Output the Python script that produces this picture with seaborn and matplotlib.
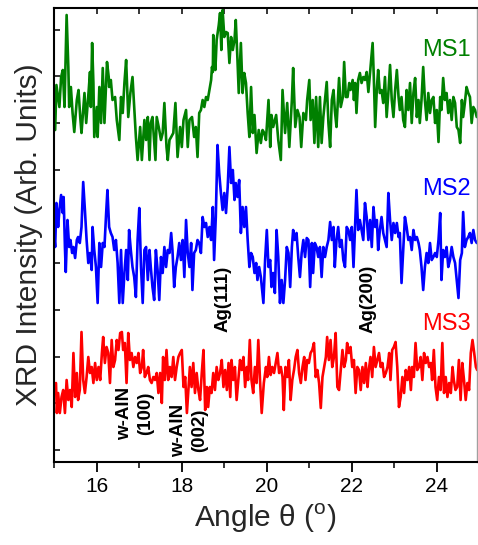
import numpy as np
import pandas as pd
import matplotlib
matplotlib.use("Agg")
import matplotlib.pyplot as plt
import seaborn as sns
from matplotlib.ticker import MultipleLocator

# ---------------- data ----------------
ms1_angle = [15.02, 15.05, 15.12, 15.16, 15.20, 15.24, 15.26, 15.29, 15.33, 15.35, 15.39, 15.43, 15.47, 15.53, 15.57,
             15.61, 15.64, 15.71, 15.75, 15.81, 15.84, 15.86, 15.89, 15.92, 15.94, 16.00, 16.02, 16.06, 16.10, 16.14,
             16.18, 16.22, 16.24, 16.28, 16.29, 16.33, 16.37, 16.43, 16.47, 16.53, 16.57, 16.61, 16.65, 16.69, 16.74,
             16.79, 16.84, 16.88, 16.92, 16.96, 17.02, 17.06, 17.12, 17.16, 17.20, 17.24, 17.27, 17.31, 17.38, 17.41,
             17.47, 17.51, 17.55, 17.59, 17.64, 17.67, 17.71, 17.75, 17.80, 17.85, 17.90, 17.96, 18.00, 18.04, 18.10,
             18.14, 18.18, 18.24, 18.29, 18.33, 18.37, 18.41, 18.45, 18.49, 18.53, 18.57, 18.61, 18.65, 18.69, 18.71,
             18.73, 18.74, 18.76, 18.79, 18.82, 18.87, 18.90, 18.93, 18.96, 19.00, 19.04, 19.08, 19.12, 19.16, 19.20,
             19.24, 19.27, 19.31, 19.34, 19.39, 19.43, 19.47, 19.51, 19.55, 19.59, 19.63, 19.67, 19.71, 19.76, 19.81,
             19.86, 19.90, 19.94, 19.98, 20.04, 20.08, 20.11, 20.15, 20.22, 20.27, 20.33, 20.37, 20.43, 20.48, 20.53,
             20.59, 20.62, 20.67, 20.72, 20.77, 20.81, 20.86, 20.92, 20.95, 21.00, 21.03, 21.08, 21.12, 21.16, 21.21,
             21.25, 21.29, 21.33, 21.37, 21.41, 21.45, 21.49, 21.53, 21.57, 21.60, 21.64, 21.70, 21.74, 21.79, 21.82,
             21.86, 21.90, 21.94, 21.97, 22.02, 22.05, 22.08, 22.11, 22.15, 22.19, 22.23, 22.27, 22.31, 22.35, 22.39,
             22.43, 22.49, 22.52, 22.55, 22.59, 22.62, 22.66, 22.70, 22.74, 22.78, 22.82, 22.86, 22.90, 22.94, 22.98,
             23.02, 23.06, 23.10, 23.13, 23.17, 23.21, 23.25, 23.29, 23.33, 23.37, 23.41, 23.45, 23.49, 23.53, 23.57,
             23.60, 23.64, 23.68, 23.72, 23.76, 23.80, 23.84, 23.88, 23.92, 23.96, 24.00, 24.04, 24.08, 24.11, 24.15,
             24.19, 24.23, 24.27, 24.31, 24.35, 24.39, 24.43, 24.47, 24.51, 24.55, 24.59, 24.62, 24.66, 24.70, 24.74,
             24.78, 24.82, 24.86, 24.90, 24.94]
ms1_int = [35, 80, 58, 88, 95, 58, 93, 150, 98, 58, 78, 52, 33, 65, 75,
           48, 32, 72, 42, 75, 93, 58, 122, 82, 28, 58, 28, 78, 42, 97,
           42, 82, 103, 88, 78, 85, 65, 68, 45, 25, 68, 52, 82, 105, 48,
           72, 88, 58, 28, 5, 38, 5, 45, 25, 48, 5, 42, 48, 5, 48,
           35, 25, 32, 62, 18, 5, 25, 28, 32, 62, 8, 38, 18, 45, 55,
           18, 45, 48, 28, 38, 8, 52, 55, 65, 58, 68, 65, 75, 85, 98,
           93, 130, 112, 95, 125, 140, 152, 115, 155, 128, 133, 132, 102, 128, 115,
           125, 145, 105, 72, 122, 72, 92, 82, 52, 28, 78, 32, 50, 12, 35,
           22, 35, 32, 25, 65, 18, 50, 38, 50, 25, 5, 75, 32, 62, 18,
           65, 97, 38, 55, 48, 18, 52, 45, 65, 85, 45, 65, 22, 68, 18,
           68, 22, 48, 65, 83, 42, 18, 65, 75, 55, 38, 87, 58, 68, 103,
           68, 68, 82, 75, 85, 65, 82, 52, 85, 92, 82, 88, 85, 93, 73,
           93, 122, 85, 38, 77, 95, 72, 75, 62, 88, 48, 72, 100, 65, 48,
           75, 95, 68, 55, 68, 45, 38, 75, 55, 82, 42, 72, 87, 48, 65,
           42, 65, 98, 65, 45, 72, 52, 65, 68, 42, 55, 23, 68, 55, 87,
           65, 72, 52, 65, 45, 68, 62, 38, 35, 22, 65, 48, 62, 78, 72,
           68, 42, 58, 55, 48]

ms2_angle = [15.00, 15.02, 15.05, 15.09, 15.12, 15.16, 15.20, 15.22, 15.25, 15.27, 15.31, 15.35, 15.38, 15.42, 15.45,
             15.49, 15.53, 15.56, 15.60, 15.64, 15.68, 15.72, 15.76, 15.80, 15.84, 15.88, 15.90, 15.94, 15.98, 16.02,
             16.06, 16.10, 16.14, 16.18, 16.22, 16.25, 16.29, 16.33, 16.37, 16.41, 16.45, 16.49, 16.53, 16.57, 16.61,
             16.65, 16.69, 16.73, 16.76, 16.80, 16.84, 16.88, 16.92, 16.96, 17.00, 17.04, 17.08, 17.12, 17.16, 17.20,
             17.24, 17.27, 17.31, 17.35, 17.39, 17.43, 17.47, 17.51, 17.55, 17.59, 17.63, 17.67, 17.71, 17.75, 17.78,
             17.82, 17.86, 17.90, 17.94, 17.98, 18.02, 18.06, 18.10, 18.14, 18.18, 18.22, 18.25, 18.29, 18.33, 18.37,
             18.41, 18.45, 18.49, 18.53, 18.57, 18.61, 18.65, 18.69, 18.73, 18.76, 18.80, 18.84, 18.88, 18.92, 18.96,
             19.00, 19.04, 19.08, 19.12, 19.16, 19.20, 19.24, 19.27, 19.31, 19.35, 19.39, 19.43, 19.47, 19.51, 19.55,
             19.59, 19.63, 19.67, 19.71, 19.75, 19.78, 19.82, 19.86, 19.92, 19.96, 20.00, 20.04, 20.08, 20.11, 20.15,
             20.19, 20.23, 20.27, 20.31, 20.35, 20.39, 20.43, 20.47, 20.51, 20.55, 20.59, 20.62, 20.66, 20.70, 20.74,
             20.78, 20.82, 20.86, 20.90, 20.94, 20.98, 21.02, 21.06, 21.09, 21.13, 21.17, 21.21, 21.25, 21.29, 21.33,
             21.37, 21.41, 21.45, 21.49, 21.53, 21.57, 21.60, 21.64, 21.68, 21.72, 21.76, 21.80, 21.84, 21.88, 21.92,
             21.96, 22.00, 22.04, 22.08, 22.11, 22.15, 22.19, 22.23, 22.27, 22.31, 22.35, 22.39, 22.43, 22.47, 22.51,
             22.55, 22.59, 22.62, 22.66, 22.70, 22.74, 22.78, 22.82, 22.86, 22.90, 22.94, 22.98, 23.02, 23.06, 23.10,
             23.13, 23.17, 23.21, 23.25, 23.29, 23.33, 23.37, 23.41, 23.45, 23.49, 23.53, 23.57, 23.60, 23.64, 23.68,
             23.72, 23.76, 23.80, 23.84, 23.88, 23.92, 23.96, 24.00, 24.04, 24.08, 24.11, 24.15, 24.19, 24.23, 24.27,
             24.31, 24.35, 24.39, 24.43, 24.47, 24.51, 24.55, 24.59, 24.62, 24.66, 24.70, 24.74, 24.78, 24.82, 24.86,
             24.90, 24.94]
ms2_int = [73, 63, 107, 83, 100, 115, 97, 113, 63, 38, 90, 63, 70, 57, 63,
           52, 70, 73, 67, 83, 128, 100, 70, 47, 57, 40, 83, 60, 43, 7,
           67, 43, 67, 63, 97, 120, 83, 77, 73, 60, 70, 47, 7, 60, 7,
           37, 60, 30, 80, 60, 43, 33, 13, 70, 102, 43, 7, 60, 63, 30,
           60, 43, 23, 10, 60, 40, 10, 53, 37, 63, 43, 60, 57, 77, 60,
           23, 43, 53, 67, 50, 70, 33, 90, 57, 43, 67, 20, 57, 60, 70,
           67, 57, 93, 83, 87, 73, 83, 70, 103, 50, 93, 165, 137, 117, 100,
           117, 97, 123, 163, 127, 140, 110, 127, 113, 130, 77, 103, 83, 103, 70,
           43, 57, 53, 37, 47, 30, 43, 33, 7, 50, 80, 43, 50, 23, 37,
           17, 80, 53, 7, 30, 7, 30, 63, 57, 23, 63, 80, 70, 77, 53,
           33, 57, 70, 53, 72, 70, 23, 67, 37, 67, 63, 53, 63, 33, 63,
           53, 63, 70, 88, 70, 83, 43, 70, 83, 63, 70, 50, 43, 83, 80,
           70, 83, 43, 87, 120, 80, 90, 80, 70, 107, 93, 70, 90, 63, 103,
           83, 90, 60, 80, 93, 77, 70, 63, 117, 90, 70, 87, 77, 87, 73,
           77, 27, 60, 93, 83, 70, 73, 60, 80, 70, 73, 67, 60, 43, 20,
           43, 57, 47, 67, 50, 53, 57, 53, 70, 97, 30, 60, 53, 63, 43,
           50, 63, 53, 47, 30, 12, 50, 57, 98, 63, 70, 73, 77, 67, 80,
           70, 67]

ms3_angle = [15.04, 15.06, 15.09, 15.13, 15.17, 15.21, 15.25, 15.29, 15.33, 15.37, 15.41, 15.45, 15.49, 15.53, 15.56,
             15.60, 15.64, 15.68, 15.72, 15.76, 15.80, 15.84, 15.88, 15.92, 15.96, 16.00, 16.04, 16.08, 16.12, 16.15,
             16.19, 16.23, 16.27, 16.31, 16.35, 16.39, 16.43, 16.47, 16.51, 16.55, 16.59, 16.62, 16.66, 16.70, 16.74,
             16.78, 16.82, 16.86, 16.90, 16.94, 16.98, 17.02, 17.06, 17.09, 17.13, 17.17, 17.21, 17.25, 17.29, 17.33,
             17.37, 17.41, 17.45, 17.49, 17.53, 17.56, 17.60, 17.64, 17.68, 17.72, 17.76, 17.80, 17.84, 17.88, 17.92,
             17.96, 18.00, 18.04, 18.08, 18.12, 18.15, 18.19, 18.23, 18.27, 18.31, 18.35, 18.39, 18.43, 18.47, 18.51,
             18.55, 18.59, 18.62, 18.66, 18.70, 18.74, 18.78, 18.82, 18.86, 18.90, 18.94, 18.98, 19.02, 19.06, 19.10,
             19.14, 19.17, 19.21, 19.25, 19.29, 19.33, 19.37, 19.41, 19.45, 19.49, 19.53, 19.56, 19.60, 19.64, 19.68,
             19.72, 19.76, 19.80, 19.84, 19.88, 19.93, 19.98, 20.01, 20.05, 20.09, 20.13, 20.17, 20.21, 20.25, 20.29,
             20.33, 20.37, 20.40, 20.44, 20.48, 20.52, 20.56, 20.60, 20.64, 20.68, 20.72, 20.76, 20.80, 20.84, 20.88,
             20.91, 20.95, 20.99, 21.03, 21.07, 21.11, 21.15, 21.19, 21.23, 21.27, 21.31, 21.35, 21.39, 21.42, 21.46,
             21.50, 21.54, 21.58, 21.62, 21.66, 21.70, 21.74, 21.78, 21.82, 21.86, 21.89, 21.93, 21.97, 22.01, 22.05,
             22.09, 22.13, 22.17, 22.21, 22.25, 22.29, 22.33, 22.37, 22.40, 22.44, 22.48, 22.52, 22.56, 22.60, 22.64,
             22.68, 22.72, 22.76, 22.80, 22.84, 22.88, 22.91, 22.95, 22.99, 23.03, 23.07, 23.11, 23.15, 23.19, 23.23,
             23.27, 23.31, 23.35, 23.39, 23.42, 23.46, 23.50, 23.54, 23.58, 23.62, 23.66, 23.70, 23.74, 23.78, 23.82,
             23.86, 23.89, 23.93, 23.97, 24.01, 24.05, 24.09, 24.13, 24.17, 24.21, 24.25, 24.29, 24.33, 24.37, 24.40,
             24.44, 24.48, 24.52, 24.56, 24.60, 24.64, 24.68, 24.72, 24.76, 24.80, 24.84, 24.88, 24.92, 24.95]
ms3_int = [37, 7, 27, 7, 23, 30, 7, 40, 20, 30, 13, 67, 23, 47, 20,
           30, 88, 40, 27, 43, 63, 47, 53, 37, 57, 40, 53, 40, 67, 83,
           57, 73, 67, 37, 80, 53, 60, 80, 70, 87, 88, 70, 77, 37, 87,
           60, 67, 53, 63, 57, 67, 47, 53, 70, 43, 47, 53, 40, 37, 43,
           40, 47, 27, 47, 17, 63, 40, 70, 40, 53, 43, 63, 40, 53, 63,
           67, 70, 33, 43, 7, 27, 53, 33, 57, 27, 47, 30, 20, 47, 70,
           10, 33, 13, 33, 27, 47, 30, 53, 40, 47, 60, 33, 50, 30, 57,
           23, 60, 40, 53, 20, 40, 60, 50, 63, 33, 53, 40, 80, 40, 27,
           53, 37, 80, 40, 7, 37, 53, 43, 63, 45, 53, 47, 57, 67, 47,
           53, 43, 10, 53, 43, 60, 20, 40, 50, 63, 70, 47, 37, 53, 63,
           40, 60, 57, 67, 70, 77, 43, 50, 37, 12, 43, 53, 63, 83, 60,
           80, 53, 63, 87, 33, 30, 50, 70, 53, 60, 77, 67, 73, 53, 60,
           27, 53, 50, 30, 53, 37, 57, 33, 50, 63, 43, 73, 53, 60, 67,
           53, 57, 43, 47, 53, 67, 40, 70, 73, 78, 53, 13, 23, 43, 27,
           50, 40, 53, 30, 53, 43, 77, 50, 53, 63, 40, 67, 57, 63, 53,
           57, 40, 70, 33, 20, 43, 30, 77, 27, 43, 23, 37, 27, 53, 40,
           30, 33, 60, 20, 57, 40, 20, 37, 30, 67, 80, 67, 53, 50]

samples = ["MS1", "MS2", "MS3"]
sample_colors = ["#008000", "#0000FF", "#FF0000"]
stack_offsets = [297, 152, 42]          # vertical stacking of the patterns

peak_labels = ["Ag(111)", "Ag(200)", "w-AlN\n(100)", "w-AlN\n(002)"]
peak_angles = [18.98, 22.39, 16.90, 18.17]
peak_heights = [163, 163, 49, 32]

# ---------------- build table ----------------
frames = []
for name, ang, inten, off in zip(samples,
                                 [ms1_angle, ms2_angle, ms3_angle],
                                 [ms1_int, ms2_int, ms3_int],
                                 stack_offsets):
    frames.append(pd.DataFrame({"angle": ang,
                                "intensity": np.asarray(inten, float) + off,
                                "sample": name}))
df = pd.concat(frames, ignore_index=True)

# ---------------- plot ----------------
sns.set_theme(style="ticks")
plt.rcParams["font.family"] = ["Liberation Sans", "DejaVu Sans"]
plt.rcParams["mathtext.fontset"] = "custom"
plt.rcParams["mathtext.rm"] = "Liberation Sans"
plt.rcParams["ytick.direction"] = "in"
plt.rcParams["xtick.direction"] = "out"

W, H = 478, 545
fig = plt.figure(figsize=(W / 100, H / 100), dpi=100)
ax = fig.add_axes([54.3 / W, 83 / H, (477 - 54.3) / W, 454 / H])

sns.lineplot(data=df, x="angle", y="intensity", hue="sample",
             palette=dict(zip(samples, sample_colors)),
             estimator=None, sort=False, linewidth=1.9, legend=False, ax=ax)

ax.set_xlim(15, 15 + (477 - 54.3) / 42.5)
ax.set_ylim(0, 454)

# label of each pattern
label_heights = [412, 273, 138]
for name, col, yy in zip(samples, sample_colors, label_heights):
    ax.text(24.80, yy, name, color=col, fontsize=17, ha="right", va="center")

# peak annotations
for lab, xa, ya in zip(peak_labels, peak_angles, peak_heights):
    ax.text(xa, ya, lab, rotation=90, ha="center", va="center",
            fontsize=13.5, fontweight="bold", color="black",
            multialignment="center", linespacing=1.25)

# axes styling
ax.xaxis.set_major_locator(MultipleLocator(2))
ax.xaxis.set_minor_locator(MultipleLocator(1))
ax.tick_params(axis="x", which="major", direction="out", length=7, width=1.3,
               labelsize=15, pad=4, colors="black", top=False)
ax.tick_params(axis="x", which="minor", direction="out", length=4, width=1.3, top=False)
ax.set_yticks([12 + 46.7 * k for k in range(10)])
ax.tick_params(axis="y", which="both", direction="in", length=4, width=1.3,
               left=True, right=False, labelleft=False)

for side in ["left", "bottom", "top"]:
    ax.spines[side].set_linewidth(1.5)
    ax.spines[side].set_color("black")
ax.spines["right"].set_linewidth(1.0)
ax.spines["right"].set_color("#a0a0a0")

# top ticks (inside, each degree)
secx = ax.secondary_xaxis("top")
secx.xaxis.set_major_locator(MultipleLocator(1))
secx.tick_params(direction="in", length=4, width=1.3, labeltop=False)
secx.spines["top"].set_visible(False)

ax.set_xlabel(r"Angle θ ($^{\mathrm{o}}$)", fontsize=21.5, labelpad=4)
ax.set_ylabel("XRD Intensity (Arb. Units)", fontsize=21.5, labelpad=8)

fig.savefig("out.png", dpi=100)
